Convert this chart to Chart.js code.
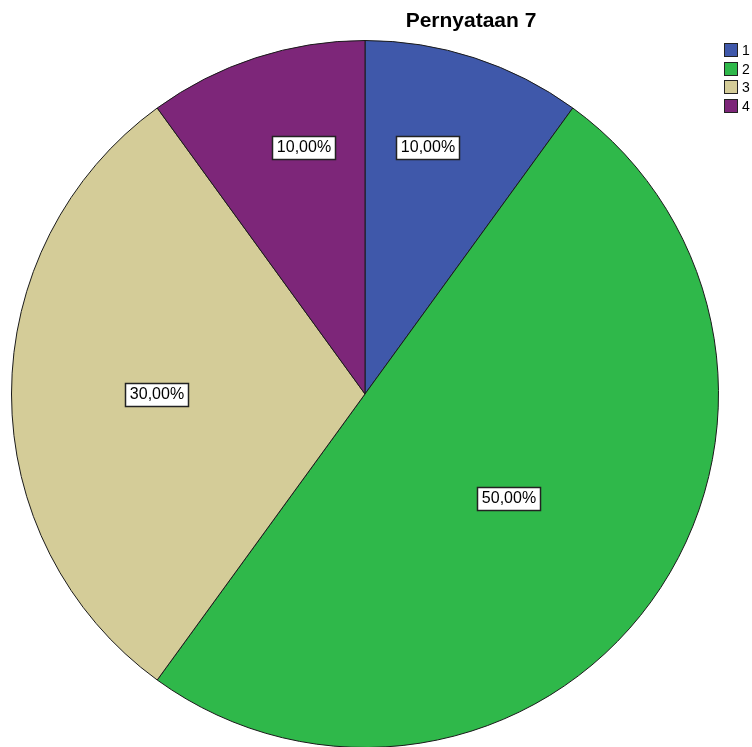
<!DOCTYPE html>
<html>
<head>
<meta charset="utf-8">
<script src="https://cdn.jsdelivr.net/npm/chart.js@4.4.0/dist/chart.umd.min.js"></script>
<style>
  html, body { margin: 0; padding: 0; background: #ffffff; overflow: hidden; }
  #wrap { width: 752px; height: 760px; position: relative; }
</style>
</head>
<body>
<div id="wrap"><canvas id="pie"></canvas></div>
<script>
const categories = ["1", "2", "3", "4"];
const percents = [10, 50, 30, 10];
const sliceColors = ["#3F58AA", "#2FB84A", "#D4CC98", "#7D2679"];
// where each value box sits: fraction of radius, and fraction across the slice
const labelRadius = [0.72, 0.5, 0.59, 0.72];
const labelSpan = [0.39, 0.5, 0.5, 0.61];

const fmt = (v) => v.toFixed(2).replace(".", ",") + "%";

// title, legend and boxed value labels, drawn by hand
const extras = {
    id: "extras",
    afterDraw(chart) {
        const ctx = chart.ctx;
        ctx.save();

        // title
        ctx.fillStyle = "#000000";
        ctx.font = "bold 21px 'Liberation Sans', Arial, sans-serif";
        ctx.textAlign = "center";
        ctx.textBaseline = "middle";
        ctx.fillText("Pernyataan 7", 471, 21);

        // legend
        ctx.font = "14px 'Liberation Sans', Arial, sans-serif";
        ctx.textAlign = "left";
        for (let i = 0; i < categories.length; i++) {
            let y = Math.round(43 + i * 18.5);
            ctx.fillStyle = sliceColors[i];
            ctx.fillRect(724, y, 13, 13);
            ctx.strokeStyle = "#222222";
            ctx.lineWidth = 1;
            ctx.strokeRect(724.5, y + 0.5, 13, 13);
            ctx.fillStyle = "#000000";
            ctx.fillText(categories[i], 742, y + 8);
        }

        // value boxes
        const meta = chart.getDatasetMeta(0);
        ctx.font = "16px 'Liberation Sans', Arial, sans-serif";
        ctx.textAlign = "center";
        meta.data.forEach((arc, i) => {
            const p = arc.getProps(["x", "y", "startAngle", "endAngle", "outerRadius"], true);
            const a = p.startAngle + (p.endAngle - p.startAngle) * labelSpan[i];
            const r = p.outerRadius * labelRadius[i];
            const x = Math.round(p.x + Math.cos(a) * r);
            const y = Math.round(p.y + Math.sin(a) * r);
            const txt = fmt(percents[i]);
            const w = Math.ceil(ctx.measureText(txt).width) + 8;
            const h = 23;
            const left = Math.round(x - w / 2);
            const top = Math.round(y - h / 2);
            ctx.fillStyle = "#ffffff";
            ctx.fillRect(left, top, w, h);
            ctx.strokeStyle = "#222222";
            ctx.lineWidth = 1.5;
            ctx.strokeRect(left + 0.5, top + 0.5, w, h);
            ctx.fillStyle = "#000000";
            ctx.fillText(txt, x + 1, y + 1);
        });
        ctx.restore();
    }
};

new Chart(document.getElementById("pie"), {
    type: "pie",
    plugins: [extras],
    data: {
        labels: categories,
        datasets: [{
            data: percents,
            backgroundColor: sliceColors,
            borderColor: "#1a1a1a",
            borderWidth: 1
        }]
    },
    options: {
        responsive: true,
        maintainAspectRatio: false,
        animation: false,
        layout: { padding: { left: 11, right: 33, top: 40, bottom: 12 } },
        plugins: {
            legend: { display: false },
            title: { display: false },
            tooltip: { enabled: false }
        }
    }
});
</script>
</body>
</html>
